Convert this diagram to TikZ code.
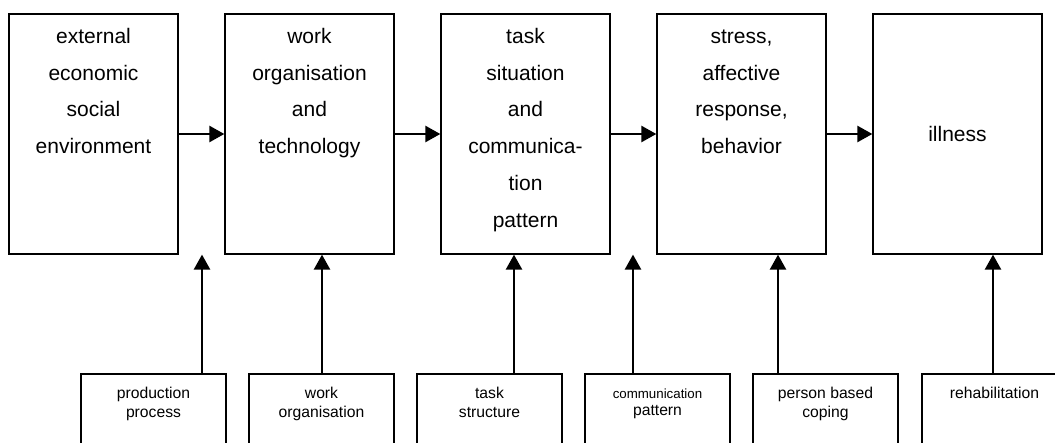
\documentclass[tikz,border=0pt]{standalone}
\usepackage{fontspec}
\setmainfont{Liberation Sans}
\usetikzlibrary{arrows.meta}
\begin{document}
\begin{tikzpicture}[x=1pt,y=-1pt,
  topbox/.style={draw, line width=1.3pt, minimum width=169pt, minimum height=240pt, inner sep=0pt},
  botbox/.style={draw, line width=1.3pt, minimum width=145pt, minimum height=100pt, inner sep=0pt},
  toptext/.style={anchor=north, align=center, inner sep=0pt, font=\fontsize{21}{36.7}\selectfont},
  bottext/.style={anchor=north, align=center, inner sep=0pt, font=\fontsize{15.7}{19}\selectfont},
  arr/.style={line width=2.5pt, -{Triangle[length=15pt,width=16pt]}}]
\useasboundingbox (0,0) rectangle (1055,443);
\clip (0,0) rectangle (1055,443);
% top boxes
\node[topbox] (tb1) at (93.5,134) {};
\node[topbox] (tb2) at (309.5,134) {};
\node[topbox] (tb3) at (525.5,134) {};
\node[topbox] (tb4) at (741.5,134) {};
\node[topbox, font=\fontsize{21}{36.7}\selectfont] (tb5) at (957.5,134) {illness};
\node[toptext] (t1) at ([yshift=-4.3pt]tb1.north) {\strut external\\economic\\social\\environment};
\node[toptext] (t2) at ([yshift=-4.3pt]tb2.north) {\strut work\\organisation\\and\\technology};
\node[toptext] (t3) at ([yshift=-4.3pt]tb3.north) {\strut task\\situation\\and\\communica-\\tion\\pattern};
\node[toptext] (t4) at ([yshift=-4.3pt]tb4.north) {\strut stress,\\affective\\response,\\behavior};
% bottom boxes
\node[botbox] (bb1) at (153.5,424) {};
\node[botbox] (bb2) at (321.5,424) {};
\node[botbox] (bb3) at (489.5,424) {};
\node[botbox] (bb4) at (657.5,424) {};
\node[botbox] (bb5) at (825.5,424) {};
\node[botbox] (bb6) at (994.5,424) {};
\node[bottext] (s1) at ([yshift=-11.7pt]bb1.north) {\strut production\\process};
\node[bottext] (s2) at ([yshift=-11.7pt]bb2.north) {\strut work\\organisation};
\node[bottext] (s3) at ([yshift=-11.7pt]bb3.north) {\strut task\\structure};
\node[bottext] (s4) at ([yshift=-11.7pt]bb4.north) {\strut{\fontsize{13.3}{16}\selectfont communication}\\[-2pt]pattern};
\node[bottext] (s5) at ([yshift=-11.7pt]bb5.north) {\strut person based\\coping};
\node[bottext] (s6) at ([yshift=-11.7pt]bb6.north) {\strut rehabilitation};
% horizontal arrows
\draw[arr] (tb1.east) -- (tb2.west);
\draw[arr] (tb2.east) -- (tb3.west);
\draw[arr] (tb3.east) -- (tb4.west);
\draw[arr] (tb4.east) -- (tb5.west);
% vertical arrows
\coordinate (f1) at (202,254.6);
\coordinate (f4) at (633,254.6);
\coordinate (p1) at ([xshift=48.5pt]bb1.north);
\coordinate (p2) at ([xshift=0.5pt]bb2.north);
\coordinate (p3) at ([xshift=24.5pt]bb3.north);
\coordinate (p4) at ([xshift=-24.5pt]bb4.north);
\coordinate (p5) at ([xshift=-47.5pt]bb5.north);
\coordinate (p6) at ([xshift=-1.5pt]bb6.north);
\draw[arr] (p1) -- (p1 |- f1);
\draw[arr] (p2) -- (p2 |- tb2.south);
\draw[arr] (p3) -- (p3 |- tb3.south);
\draw[arr] (p4) -- (p4 |- f4);
\draw[arr] (p5) -- (p5 |- tb4.south);
\draw[arr] (p6) -- (p6 |- tb5.south);
\end{tikzpicture}
\end{document}
